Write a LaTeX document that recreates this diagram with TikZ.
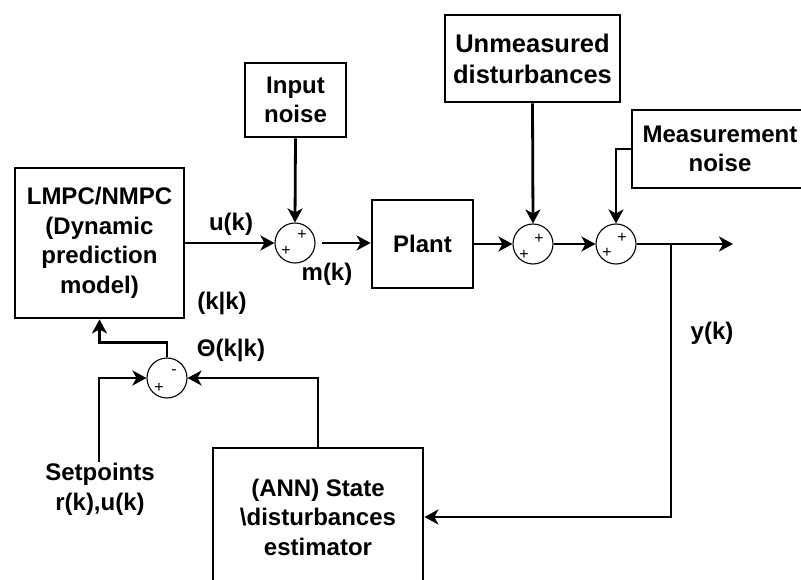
\documentclass[tikz,border=0pt]{standalone}
\usepackage{fontspec}
\setmainfont{Liberation Sans}
\usetikzlibrary{arrows.meta,calc}
\tikzset{
  blk/.style={draw,line width=2.8pt,rectangle,align=center,inner sep=0pt,
    font=\fontsize{24}{29.5}\selectfont\bfseries},
  sumc/.style={draw,line width=1.1pt,circle,minimum size=40pt,inner sep=0pt},
  conn/.style={line width=2.8pt,-{Stealth[length=14pt,width=15pt,inset=4pt]}},
  lbl/.style={font=\fontsize{24}{29.5}\selectfont\bfseries,align=center,inner sep=0pt},
  sgn/.style={font=\fontsize{16}{16}\selectfont,inner sep=0pt}
}
\begin{document}
\begin{tikzpicture}[x=1pt,y=-1pt]
\useasboundingbox (0,0) rectangle (801,580);
% blocks
\node[blk,minimum width=169pt,minimum height=150pt] (lmpc) at (99.5,243) {LMPC/NMPC\\(Dynamic\\prediction\\model)};
\node[blk,minimum width=101pt,minimum height=74pt] (innoise) at (295.5,100) {Input\\noise};
\node[blk,minimum width=101pt,minimum height=88pt] (plant) at (422.5,244) {Plant};
\node[blk,minimum width=175pt,minimum height=87pt,font=\fontsize{25.5}{31}\selectfont\bfseries] (unm) at (532.5,58.5) {Unmeasured\\disturbances};
\node[blk,minimum width=176pt,minimum height=78pt] (meas) at (720,149) {Measurement\\noise};
\node[blk,minimum width=210pt,minimum height=138pt] (ann) at (318,517) {(ANN) State\\\textbackslash disturbances\\estimator};
% summing junctions
\node[sumc] (s1) at (295,243) {};
\node[sumc] (s2) at (533,244) {};
\node[sumc] (s3) at (616,244) {};
\node[sumc] (s4) at (167,378) {};
% signs
\node[sgn] (s1a) at (302,235) {+};
\node[sgn] (s1b) at (286,251) {+};
\node[sgn] (s2a) at (539,239) {+};
\node[sgn] (s2b) at (524,255) {+};
\node[sgn] (s3a) at (622,238) {+};
\node[sgn] (s3b) at (607,253) {+};
\node[sgn] (s4a) at (174,372) {-};
\node[sgn] (s4b) at (159,388) {+};
% coordinates
\coordinate (out) at (733,244);
\coordinate (br) at (671,244);
\coordinate (sp) at (99,462);
% connectors
\draw[conn] (lmpc.east |- s1.west) -- (s1.west);
\draw[conn] (innoise.south) -- (s1.north);
\draw[conn,shorten <=6pt] (s1.east) -- (plant.west |- s1.east);
\draw[conn] (plant.east |- s2.west) -- (s2.west);
\draw[conn] (unm.south) -- (s2.north);
\draw[conn] (s2.east) -- (s3.west);
\draw[conn] (meas.west) -| (s3.north);
\draw[conn] (s3.east) -- (out);
\draw[conn] (br) |- (ann.east);
\draw[conn] (ann.north) |- (s4.east);
\draw[conn] (s4.north) -- ++(0,-15) -| (lmpc.south);
\draw[conn] (sp) |- (s4.west);
% labels
\node[lbl] (luk) at (231,224) {u(k)};
\node[lbl] (lmk) at (327,274) {m(k)};
\node[lbl] (lkk) at (222,303) {(k|k)};
\node[lbl] (lth) at (231,350) {Θ(k|k)};
\node[lbl] (lyk) at (712,333) {y(k)};
\node[lbl] (lsp) at (100,489.5) {Setpoints\\r(k),u(k)};
\end{tikzpicture}
\end{document}
